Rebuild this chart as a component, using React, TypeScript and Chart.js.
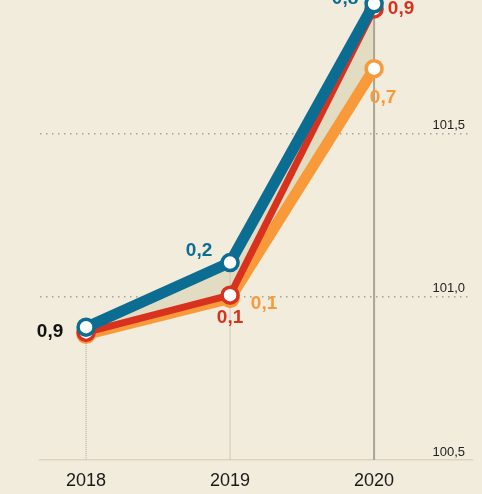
import React, { useEffect, useRef } from "react";
import { Chart, registerables } from "chart.js";

Chart.register(...registerables);

// ---- data ----
const years = [2018, 2019, 2020];
const blueValues = [100.907, 101.105, 101.898];
const redValues = [100.891, 101.005, 101.882];
const orangeValues = [100.885, 100.995, 101.699];
const blueLabels = ["0,9", "0,2", "0,8"];
const redLabels = ["", "0,1", "0,9"];
const orangeLabels = ["", "0,1", "0,7"];
const yTicks = [100.5, 101.0, 101.5];
const yMin = 100.5;
const yMax = 101.907;
const xMin = 2017.68;
const xMax = 2020.68;

// ---- styles ----
const BG = "#f2ecdc";
const BLUE = "#0c6d92";
const RED = "#d8321f";
const ORANGE = "#f99a3a";
const FILL = "#e2dcc3";
const FONT = "'Liberation Sans', Arial, sans-serif";

// label offsets per dataset [dx, dy, colorOverride?]
const labelOffsets: any[][] = [
  [[-36, 5, "#111111"], [-31, -12], [-29, -5]],
  [null, [0, 23], [27, 0]],
  [null, [34, 5], [9, 29]],
];

const dropLinePlugin = {
  id: "dropLines",
  beforeDatasetsDraw(chart: any) {
    const { ctx, chartArea, scales } = chart;
    const xs = scales.x;
    const ys = scales.y;
    years.forEach((yr, i) => {
      const vals = chart.data.datasets.map((d: any) => d.data[i].y);
      const top = ys.getPixelForValue(Math.max(...vals));
      const x = xs.getPixelForValue(yr);
      ctx.save();
      const last = i === years.length - 1;
      ctx.strokeStyle = last ? "#aaa596" : "#c4bfad";
      ctx.lineWidth = last ? 2 : 1.5;
      ctx.setLineDash(last ? [] : [1, 1]);
      ctx.beginPath();
      ctx.moveTo(x, top);
      ctx.lineTo(x, chartArea.bottom);
      ctx.stroke();
      ctx.restore();
    });
  },
};

const valueLabelPlugin = {
  id: "valueLabels",
  afterDatasetsDraw(chart: any) {
    const { ctx } = chart;
    chart.data.datasets.forEach((ds: any, di: number) => {
      const meta = chart.getDatasetMeta(di);
      meta.data.forEach((pt: any, i: number) => {
        const text = ds.valueLabels[i];
        const off = labelOffsets[di][i];
        if (!text || !off) return;
        ctx.save();
        ctx.font = `bold 19px ${FONT}`;
        ctx.fillStyle = off[2] || ds.borderColor;
        ctx.textAlign = "center";
        ctx.textBaseline = "middle";
        ctx.fillText(text, pt.x + off[0], pt.y + off[1]);
        ctx.restore();
      });
    });
  },
};

export default function App() {
  const ref = useRef<HTMLCanvasElement | null>(null);

  useEffect(() => {
    if (!ref.current) return;
    const toPts = (arr: number[]) => arr.map((v, i) => ({ x: years[i], y: v }));
    const pointStyle = (c: string) => ({
      borderColor: c,
      pointBackgroundColor: "#ffffff",
      pointBorderColor: c,
      pointBorderWidth: 3.5,
      pointRadius: 8,
      pointHoverRadius: 8,
    });
    const chart = new Chart(ref.current, {
      type: "line",
      data: {
        datasets: [
          {
            data: toPts(blueValues),
            valueLabels: blueLabels,
            borderWidth: 11,
            fill: 2,
            backgroundColor: FILL,
            clip: false,
            ...pointStyle(BLUE),
          } as any,
          {
            data: toPts(redValues),
            valueLabels: redLabels,
            borderWidth: 7,
            fill: false,
            clip: false,
            ...pointStyle(RED),
          } as any,
          {
            data: toPts(orangeValues),
            valueLabels: orangeLabels,
            borderWidth: 11,
            fill: false,
            clip: false,
            ...pointStyle(ORANGE),
          } as any,
        ],
      },
      options: {
        animation: false,
        responsive: true,
        maintainAspectRatio: false,
        layout: { autoPadding: false, padding: { left: 40, right: 0, top: 0, bottom: 0 } },
        plugins: {
          legend: { display: false },
          tooltip: { enabled: false },
          filler: { drawTime: "beforeDatasetsDraw" } as any,
        },
        elements: { line: { tension: 0, borderJoinStyle: "round", borderCapStyle: "round" } },
        scales: {
          x: {
            type: "linear",
            position: "bottom",
            min: xMin,
            max: xMax,
            afterBuildTicks: (s: any) => {
              s.ticks = years.map((v) => ({ value: v }));
            },
            afterFit: (s: any) => {
              s.height = 34;
            },
            grid: { display: false, drawTicks: false },
            border: { display: true, color: "#dcd5bd", width: 1.5 },
            ticks: {
              padding: 10,
              color: "#1a1a1a",
              font: { family: FONT, size: 18 },
              callback: (v: any) => String(v),
              maxRotation: 0,
            },
          },
          y: {
            type: "linear",
            position: "right",
            min: yMin,
            max: yMax,
            afterBuildTicks: (s: any) => {
              s.ticks = yTicks.map((v) => ({ value: v }));
            },
            afterFit: (s: any) => {
              s.width = 10;
            },
            grid: {
              drawTicks: false,
              lineWidth: 1.5,
              color: (c: any) => (c.tick && c.tick.value === yMin ? "rgba(0,0,0,0)" : "#a5a399"),
            },
            border: { display: false, dash: [1.5, 4.5] },
            ticks: {
              mirror: true,
              padding: -7,
              labelOffset: -8,
              color: "#222222",
              font: { family: FONT, size: 13 },
              callback: (v: any) => Number(v).toFixed(1).replace(".", ","),
            },
          },
        },
      },
      plugins: [dropLinePlugin, valueLabelPlugin],
    } as any);
    return () => chart.destroy();
  }, []);

  return (
    <div
      style={{
        position: "absolute",
        left: 0,
        top: 0,
        width: 482,
        height: 494,
        background: BG,
      }}
    >
      <canvas ref={ref} />
    </div>
  );
}
